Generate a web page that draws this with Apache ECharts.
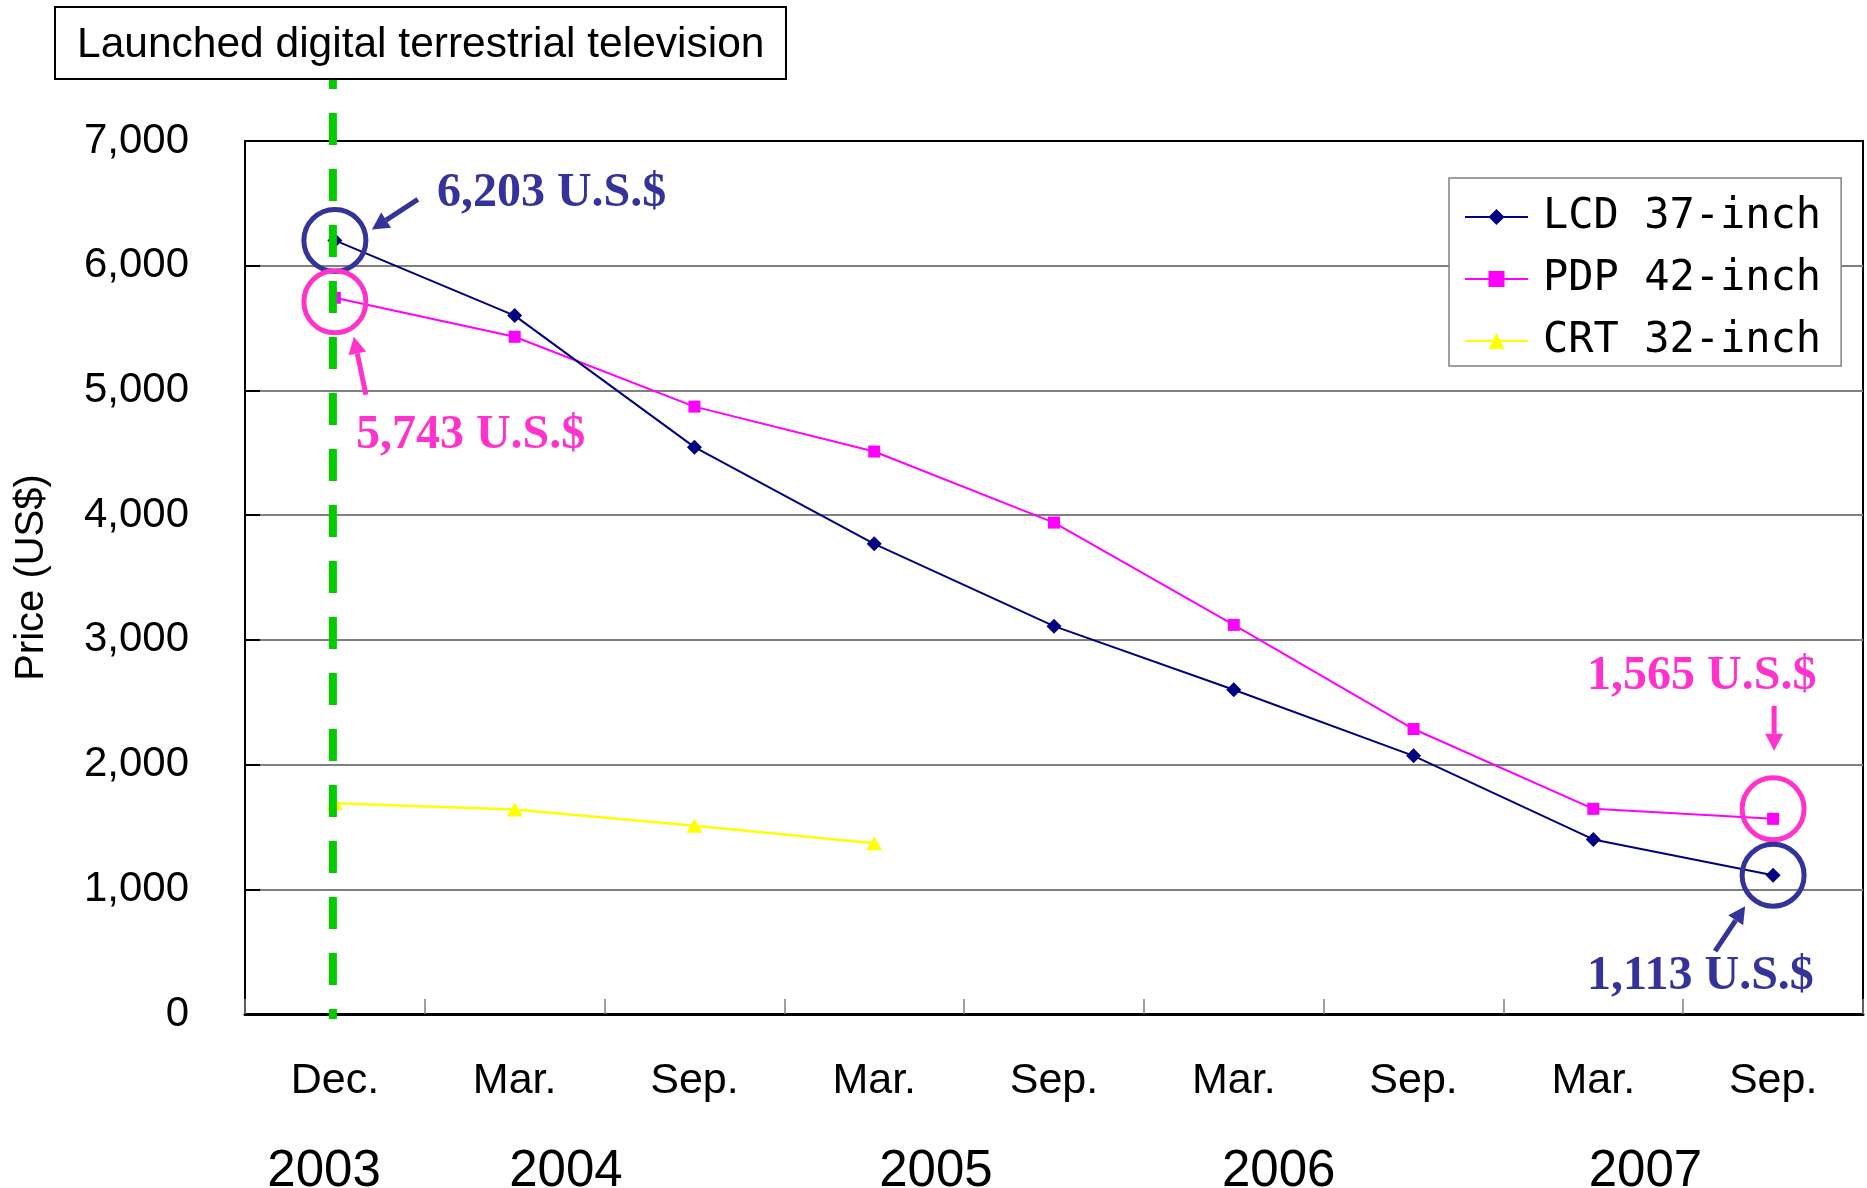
<!DOCTYPE html>
<html>
<head>
<meta charset="utf-8">
<script src="https://cdn.jsdelivr.net/npm/echarts@6/dist/echarts.min.js"></script>
<style>
  html, body { margin: 0; padding: 0; background: #ffffff; }
  #chart { width: 1867px; height: 1188px; }
</style>
</head>
<body>
<div id="chart"></div>
<script>
// ---------------- data ----------------
const periods = ['Dec. 2003', 'Mar. 2004', 'Sep. 2004', 'Mar. 2005', 'Sep. 2005', 'Mar. 2006', 'Sep. 2006', 'Mar. 2007', 'Sep. 2007'];
const monthLabels = ['Dec.', 'Mar.', 'Sep.', 'Mar.', 'Sep.', 'Mar.', 'Sep.', 'Mar.', 'Sep.'];
const yearLabels = ['2003', '2004', '2005', '2006', '2007'];
const yearLabelSlots = [0.44, 1.785, 3.843, 5.75, 7.79]; // position along the period axis, in period widths
const lcd37 = [6203, 5600, 4545, 3770, 3110, 2600, 2070, 1400, 1113];
const pdp42 = [5743, 5430, 4870, 4510, 3940, 3120, 2285, 1645, 1565];
const crt32 = [1690, 1640, 1510, 1370, null, null, null, null, null];
const seriesNames = ['LCD 37-inch', 'PDP 42-inch', 'CRT 32-inch'];
const yMin = 0, yMax = 7000, yStep = 1000;
const titleText = 'Launched digital terrestrial television';
const launchPeriod = 0; // index of Dec. 2003
const callouts = [
  { series: 0, index: 0, text: '6,203 U.S.$' },
  { series: 1, index: 0, text: '5,743 U.S.$' },
  { series: 1, index: 8, text: '1,565 U.S.$' },
  { series: 0, index: 8, text: '1,113 U.S.$' }
];

// ---------------- styles ----------------
const NAVY = '#000080', MAGENTA = '#FF00FF', YELLOW = '#FFFF00';
const NOTE_BLUE = '#333399', NOTE_PINK = '#FF33CC', GREEN = '#00CC00';
const SANS = '"Liberation Sans", Arial, sans-serif';
const SERIF = '"Liberation Serif", "Times New Roman", serif';

const chart = echarts.init(document.getElementById('chart'), null, { renderer: 'canvas' });

function ring(color, idx, val, dy) {
  return { coord: [idx, val], symbolOffset: [0, dy],
    itemStyle: { color: 'rgba(0,0,0,0)', borderColor: color, borderWidth: 5 } };
}

const option = {
  backgroundColor: '#ffffff',
  animation: false,
  title: {
    text: titleText,
    left: 55,
    top: 7,
    padding: [17, 22, 13, 22],
    borderColor: '#000',
    borderWidth: 2,
    backgroundColor: '#fff',
    textStyle: { fontFamily: SANS, fontSize: 42.5, fontWeight: 'normal', color: '#000', lineHeight: 42 }
  },
  legend: {
    orient: 'vertical',
    left: 1449,
    top: 178,
    padding: [18, 20, 4, 15],
    itemWidth: 63,
    itemHeight: 20,
    itemGap: 20,
    borderColor: '#808080',
    borderWidth: 1.5,
    backgroundColor: '#fff',
    textStyle: { fontFamily: '"DejaVu Sans Mono", monospace', fontSize: 42, color: '#000', padding: [0, 0, 0, 10], lineHeight: 42 },
    data: seriesNames
  },
  grid: {
    left: 245, right: 4, top: 141, bottom: 174,
    containLabel: false,
    outerBoundsMode: 'none',
    show: true, borderColor: '#000', borderWidth: 2, backgroundColor: 'transparent'
  },
  xAxis: [
    {
      type: 'category',
      data: periods,
      boundaryGap: true,
      position: 'bottom',
      axisLine: { show: true, lineStyle: { color: '#000', width: 3 } },
      axisTick: { show: true, inside: true, length: 15, lineStyle: { color: '#808080', width: 1.5 } },
      axisLabel: {
        margin: 46,
        fontFamily: SANS, fontSize: 43, color: '#000',
        formatter: (v, i) => monthLabels[i]
      },
      splitLine: { show: false }
    },
    {
      type: 'value',
      min: 0,
      max: periods.length,
      position: 'bottom',
      axisLine: { show: false },
      axisTick: { show: false },
      splitLine: { show: false },
      axisLabel: {
        show: true,
        customValues: yearLabelSlots,
        margin: 132,
        fontFamily: SANS, fontSize: 51, color: '#000',
        formatter: (v) => {
          let best = 0, d = Infinity;
          yearLabelSlots.forEach((p, k) => { if (Math.abs(p - v) < d) { d = Math.abs(p - v); best = k; } });
          return yearLabels[best];
        }
      }
    }
  ],
  yAxis: {
    type: 'value',
    min: yMin, max: yMax, interval: yStep,
    name: 'Price (US$)',
    nameLocation: 'middle',
    nameGap: 193,
    nameRotate: 90,
    nameTextStyle: { fontFamily: SANS, fontSize: 40, color: '#000' },
    axisLine: { show: true, lineStyle: { color: '#000', width: 2 } },
    axisTick: { show: true, inside: true, length: 15, lineStyle: { color: '#000', width: 2 } },
    axisLabel: {
      margin: 56,
      fontFamily: SANS, fontSize: 42, color: '#000',
      formatter: (v) => v.toLocaleString('en-US')
    },
    splitLine: { show: true, showMaxLine: false, showMinLine: false, lineStyle: { color: '#808080', width: 2 } }
  },
  series: [
    {
      name: seriesNames[0], type: 'line', data: lcd37,
      symbol: 'diamond', symbolSize: 15,
      lineStyle: { color: NAVY, width: 2 }, itemStyle: { color: NAVY },
      z: 4
    },
    {
      name: seriesNames[1], type: 'line', data: pdp42,
      symbol: 'rect', symbolSize: 12,
      lineStyle: { color: MAGENTA, width: 2 }, itemStyle: { color: MAGENTA },
      z: 3
    },
    {
      name: seriesNames[2], type: 'line', data: crt32,
      symbol: 'triangle', symbolSize: [16, 14],
      connectNulls: false,
      lineStyle: { color: YELLOW, width: 2.5 }, itemStyle: { color: YELLOW },
      z: 2
    },
    {
      name: 'highlight-rings', type: 'line', data: [], z: 6,
      markPoint: {
        symbol: 'circle', symbolSize: 62, silent: true, label: { show: false },
        data: [
          ring(NOTE_BLUE, 0, lcd37[0], 0),
          ring(NOTE_PINK, 0, pdp42[0], 4),
          ring(NOTE_PINK, 8, pdp42[8], -10),
          ring(NOTE_BLUE, 8, lcd37[8], 0)
        ]
      }
    }
  ]
};

chart.setOption(option);

// ---------------- annotations anchored on data points ----------------
function px(idx, val) {
  return chart.convertToPixel({ xAxisIndex: 0, yAxisIndex: 0 }, [idx, val]);
}
function arrow(x1, y1, x2, y2, color) {
  const ang = Math.atan2(y2 - y1, x2 - x1);
  const headLen = 17, headHalf = 9;
  const bx = x2 - headLen * Math.cos(ang), by = y2 - headLen * Math.sin(ang);
  const nx = -Math.sin(ang), ny = Math.cos(ang);
  return [
    { type: 'line', z: 50, silent: true, shape: { x1: x1, y1: y1, x2: bx, y2: by }, style: { stroke: color, lineWidth: 5 } },
    { type: 'polygon', z: 50, silent: true,
      shape: { points: [[x2, y2], [bx + nx * headHalf, by + ny * headHalf], [bx - nx * headHalf, by - ny * headHalf]] },
      style: { fill: color } }
  ];
}
function note(x, y, text, color) {
  return { type: 'text', z: 50, silent: true, x: x, y: y,
    style: { text: text, fill: color, font: 'bold 48px ' + SERIF, textAlign: 'left', textVerticalAlign: 'middle' } };
}

const seriesData = [lcd37, pdp42];
const colorsNote = [NOTE_BLUE, NOTE_PINK];
// offsets (pixels) from each highlighted point: text anchor, arrow tail, arrow tip
const layout = [
  { text: [102, -47], tail: [83, -41], tip: [37, -11] },
  { text: [21, 138], tail: [31, 97], tip: [19, 39] },
  { text: [-186, -142], tail: [1, -113], tip: [1, -68] },
  { text: [-186, 101], tail: [-58, 76], tip: [-28, 31] }
];
const graphics = [];
callouts.forEach((c, k) => {
  const p = px(c.index, seriesData[c.series][c.index]);
  const L = layout[k];
  const col = colorsNote[c.series];
  graphics.push(note(p[0] + L.text[0], p[1] + L.text[1], c.text, col));
  graphics.push(...arrow(p[0] + L.tail[0], p[1] + L.tail[1], p[0] + L.tip[0], p[1] + L.tip[1], col));
});

// green dashed launch line: from below the title box down to the x axis
const gx = px(launchPeriod, 0)[0];
const gy0 = px(launchPeriod, 0)[1];
graphics.push({
  type: 'line', z: 40, silent: true,
  shape: { x1: gx - 2, y1: 80, x2: gx - 2, y2: gy0 + 5 },
  style: { stroke: GREEN, lineWidth: 8, lineDash: [32, 24], lineDashOffset: 23 }
});

chart.setOption({ graphic: graphics });
</script>
</body>
</html>
